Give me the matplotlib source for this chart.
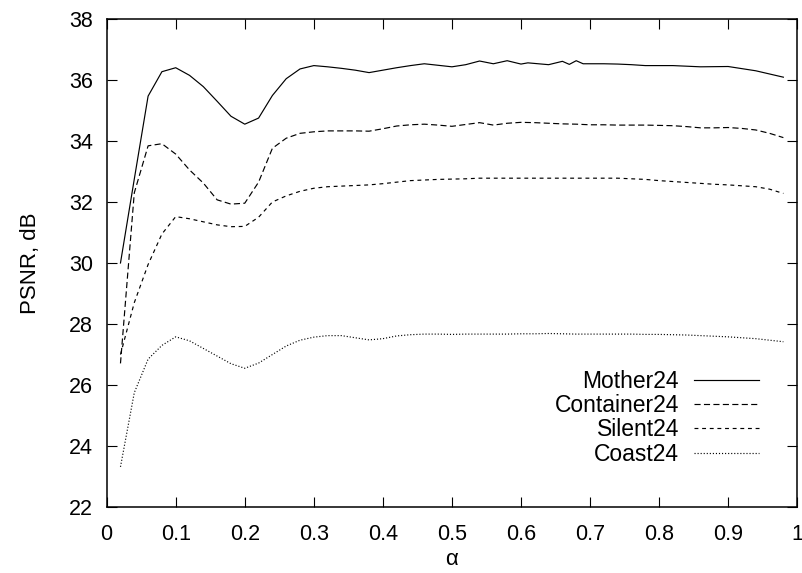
import matplotlib
matplotlib.use('Agg')
import matplotlib.pyplot as plt
import numpy as np

plt.rcParams['font.family'] = ['Liberation Sans', 'DejaVu Sans']
plt.rcParams['lines.scale_dashes'] = False

# alpha grid shared by Container24, Silent24, Coast24
alpha = np.round(np.arange(0.02, 0.99, 0.02), 2)

# Mother24 has a few extra samples near 0.6-0.7
mother_x = [0.02, 0.04, 0.06, 0.08, 0.10, 0.12, 0.14, 0.16, 0.18, 0.20,
            0.22, 0.24, 0.26, 0.28, 0.30, 0.32, 0.34, 0.36, 0.38, 0.40,
            0.42, 0.44, 0.46, 0.48, 0.50, 0.52, 0.54, 0.56, 0.58, 0.60,
            0.61, 0.62, 0.64, 0.66, 0.67, 0.68, 0.69, 0.70, 0.72, 0.74,
            0.76, 0.78, 0.82, 0.86, 0.90, 0.94, 0.98]
mother = [30.0, 32.75, 35.47, 36.27, 36.40, 36.15, 35.78, 35.30, 34.81, 34.55,
          34.75, 35.49, 36.04, 36.36, 36.47, 36.43, 36.38, 36.32, 36.24, 36.32,
          36.40, 36.47, 36.53, 36.48, 36.43, 36.50, 36.62, 36.53, 36.63, 36.52,
          36.56, 36.54, 36.50, 36.61, 36.51, 36.63, 36.53, 36.53, 36.53, 36.52,
          36.50, 36.47, 36.47, 36.43, 36.44, 36.30, 36.09]

container = [26.71, 32.30, 33.84, 33.91, 33.57, 33.05, 32.62, 32.07, 31.93, 31.96,
             32.65, 33.76, 34.09, 34.25, 34.30, 34.33, 34.33, 34.33, 34.32, 34.40,
             34.49, 34.53, 34.55, 34.52, 34.48, 34.54, 34.60, 34.52, 34.58, 34.61,
             34.60, 34.58, 34.56, 34.55, 34.53, 34.53, 34.52, 34.52, 34.52, 34.51,
             34.50, 34.47, 34.43, 34.43, 34.44, 34.41, 34.36, 34.25, 34.11]

silent = [27.00, 28.70, 29.95, 30.95, 31.52, 31.45, 31.35, 31.25, 31.19, 31.20,
          31.50, 32.00, 32.20, 32.35, 32.45, 32.50, 32.52, 32.54, 32.56, 32.60,
          32.65, 32.70, 32.72, 32.74, 32.75, 32.76, 32.78, 32.78, 32.78, 32.78,
          32.78, 32.78, 32.78, 32.78, 32.78, 32.78, 32.78, 32.76, 32.74, 32.70,
          32.67, 32.64, 32.61, 32.58, 32.56, 32.53, 32.50, 32.42, 32.28]

coast = [23.32, 25.75, 26.85, 27.30, 27.58, 27.45, 27.20, 26.95, 26.70, 26.55,
         26.72, 27.00, 27.28, 27.47, 27.57, 27.62, 27.62, 27.55, 27.48, 27.52,
         27.61, 27.65, 27.67, 27.67, 27.66, 27.67, 27.67, 27.67, 27.67, 27.68,
         27.68, 27.69, 27.68, 27.67, 27.67, 27.67, 27.67, 27.67, 27.66, 27.66,
         27.65, 27.64, 27.62, 27.60, 27.58, 27.55, 27.52, 27.47, 27.42]

x_ticks = np.round(np.arange(0, 1.01, 0.1), 1)
x_tick_labels = ['0', '0.1', '0.2', '0.3', '0.4', '0.5', '0.6', '0.7', '0.8', '0.9', '1']
y_ticks = np.arange(22, 39, 2)

fig = plt.figure(figsize=(8.02, 5.73), dpi=100)
ax = fig.add_axes([0.133, 0.115, 0.861, 0.852])

lw = 0.85
ax.plot(mother_x, mother, color='black', linewidth=lw, label='Mother24')
ax.plot(alpha, container, color='black', linewidth=lw, dashes=(4.4, 2.4), label='Container24')
ax.plot(alpha, silent, color='black', linewidth=lw, dashes=(2.8, 2.7), label='Silent24')
ax.plot(alpha, coast, color='black', linewidth=lw, dashes=(0.8, 1.4), label='Coast24')

ax.set_xlim(0, 1)
ax.set_ylim(22, 38)
ax.set_xticks(x_ticks)
ax.set_xticklabels(x_tick_labels)
ax.set_yticks(y_ticks)
ax.tick_params(direction='in', length=7, width=0.8, top=True, right=True, labelsize=15.5)
ax.tick_params(axis='x', pad=12)
ax.tick_params(axis='y', pad=10)
for spine in ax.spines.values():
    spine.set_linewidth(1.1)

ax.set_xlabel('α', fontsize=16, labelpad=3)
ax.set_ylabel('PSNR, dB', fontsize=16, labelpad=20)

ax.legend(loc='lower right', bbox_to_anchor=(0.945, 0.085), frameon=False,
          markerfirst=False, fontsize=16.5, handlelength=2.85, handletextpad=0.65,
          labelspacing=0.05, borderpad=0, borderaxespad=0)

fig.savefig('out.png', dpi=100)
